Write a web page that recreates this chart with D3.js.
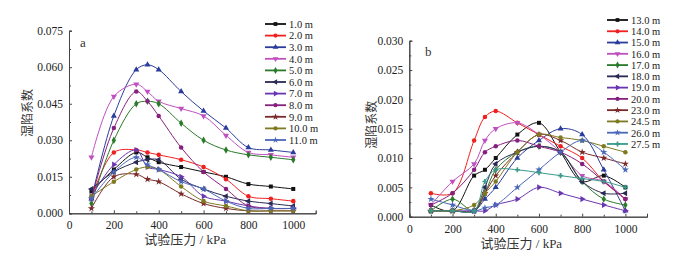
<!DOCTYPE html>
<html lang="zh">
<head>
<meta charset="UTF-8">
<title>湿陷系数</title>
<script src="https://d3js.org/d3.v7.min.js"></script>
<style>
  body { margin: 0; background: #fff; }
  svg { display: block; font-family: "Liberation Serif", "Noto Sans CJK SC", serif; }
  .tick text { font-family: "Liberation Serif", serif; font-size: 11.5px; fill: #222; }
  .legend text { font-size: 10.5px; fill: #222; }
  .title { font-size: 13px; fill: #333; }
  .ytitle { font-size: 12px; fill: #333; }
</style>
</head>
<body>
<svg id="chart" width="700" height="263"></svg>
<script>
// pressure steps (kPa), same for both panels
const pressures = [100, 200, 300, 350, 400, 500, 600, 700, 800, 900, 1000];

// panel a: depths 1.0 – 11.0 m
const depthsA = ["1.0 m", "2.0 m", "3.0 m", "4.0 m", "5.0 m", "6.0 m", "7.0 m", "8.0 m", "9.0 m", "10.0 m", "11.0 m"];
const valuesA = [
  [0.009, 0.018, 0.025, 0.023, 0.021, 0.019, 0.017, 0.015, 0.012, 0.011, 0.010],
  [0.006, 0.025, 0.026, 0.025, 0.024, 0.022, 0.019, 0.014, 0.007, 0.006, 0.005],
  [0.006, 0.040, 0.059, 0.061, 0.059, 0.050, 0.042, 0.035, 0.027, 0.026, 0.025],
  [0.023, 0.048, 0.053, 0.050, 0.046, 0.043, 0.040, 0.032, 0.025, 0.024, 0.023],
  [0.004, 0.030, 0.045, 0.046, 0.045, 0.037, 0.030, 0.026, 0.024, 0.023, 0.022],
  [0.010, 0.017, 0.021, 0.022, 0.022, 0.014, 0.010, 0.007, 0.005, 0.004, 0.003],
  [0.007, 0.020, 0.026, 0.019, 0.018, 0.015, 0.007, 0.005, 0.003, 0.002, 0.002],
  [0.006, 0.035, 0.050, 0.046, 0.040, 0.027, 0.017, 0.010, 0.003, 0.002, 0.002],
  [0.002, 0.015, 0.016, 0.014, 0.013, 0.008, 0.004, 0.002, 0.001, 0.001, 0.001],
  [0.007, 0.013, 0.018, 0.019, 0.018, 0.011, 0.005, 0.003, 0.001, 0.001, 0.001],
  [0.006, 0.017, 0.023, 0.020, 0.018, 0.013, 0.010, 0.005, 0.002, 0.002, 0.002]
];

// panel b: depths 13.0 – 27.5 m
const depthsB = ["13.0 m", "14.0 m", "15.0 m", "16.0 m", "17.0 m", "18.0 m", "19.0 m", "20.0 m", "23.0 m", "24.5 m", "26.0 m", "27.5 m"];
const valuesB = [
  [0.002, 0.001, 0.007, 0.008, 0.010, 0.014, 0.016, 0.011, 0.006, 0.007, 0.005],
  [0.004, 0.004, 0.013, 0.017, 0.018, 0.016, 0.014, 0.012, 0.010, 0.006, 0.003],
  [0.001, 0.001, 0.001, 0.003, 0.005, 0.010, 0.013, 0.015, 0.014, 0.008, 0.001],
  [0.002, 0.006, 0.009, 0.013, 0.015, 0.016, 0.014, 0.011, 0.007, 0.006, 0.003],
  [0.001, 0.003, 0.001, 0.004, 0.008, 0.011, 0.012, 0.011, 0.006, 0.003, 0.002],
  [0.001, 0.001, 0.001, 0.005, 0.009, 0.011, 0.012, 0.011, 0.006, 0.004, 0.004],
  [0.001, 0.001, 0.001, 0.001, 0.002, 0.003, 0.005, 0.004, 0.003, 0.002, 0.001],
  [0.002, 0.004, 0.008, 0.011, 0.012, 0.013, 0.012, 0.011, 0.009, 0.006, 0.003],
  [0.001, 0.001, 0.001, 0.004, 0.007, 0.011, 0.014, 0.013, 0.011, 0.010, 0.009],
  [0.001, 0.001, 0.002, 0.004, 0.006, 0.011, 0.014, 0.0135, 0.013, 0.012, 0.011],
  [0.003, 0.002, 0.001, 0.0015, 0.002, 0.005, 0.008, 0.011, 0.013, 0.011, 0.008],
  [0.001, 0.001, 0.001, 0.006, 0.008, 0.008, 0.0075, 0.007, 0.0065, 0.006, 0.005]
];

const coloursA = ["#111111", "#f02020", "#2a3c9c", "#c050c0", "#2a7a2a", "#2a2a55", "#6a35b0", "#86207e", "#7a2a2a", "#7f7a20", "#4a68b8"];
const coloursB = ["#111111", "#f02020", "#2a3c9c", "#c050c0", "#2a7a2a", "#2a2a55", "#6a35b0", "#86207e", "#7a2a2a", "#7f7a20", "#4a68b8", "#3a9a8a"];

// marker shapes: [symbol, rotation]
const shapes = [
  [d3.symbolSquare, 0], [d3.symbolCircle, 0], [d3.symbolTriangle, 0], [d3.symbolTriangle, 180],
  [d3.symbolDiamond, 0], [d3.symbolTriangle, -90], [d3.symbolTriangle, 90], [d3.symbolCircle, 0],
  [d3.symbolStar, 0], [d3.symbolCircle, 0], [d3.symbolStar, 0], [d3.symbolCross, 0]
];

const svg = d3.select("#chart");

function drawPanel(opt) {
  const x = d3.scaleLinear().domain([0, 1100]).range([opt.left, opt.right]);
  const y = d3.scaleLinear().domain([0, opt.ymax]).range([opt.bottom, opt.top]);
  const g = svg.append("g");

  // major + minor ticks, pointing inward
  const xAxis = d3.axisBottom(x).tickValues(d3.range(0, 1001, 200)).tickSize(-3).tickPadding(8).tickFormat(d3.format("d"));
  const xMinor = d3.axisBottom(x).tickValues(d3.range(100, 1001, 200)).tickSize(-2).tickFormat("");
  const yAxis = d3.axisLeft(y).tickValues(d3.range(0, opt.ymax + 1e-9, opt.ystep)).tickSize(-3).tickPadding(6).tickFormat(d3.format(".3f"));
  const yMinor = d3.axisLeft(y).tickValues(d3.range(opt.ystep / 2, opt.ymax, opt.ystep)).tickSize(-2).tickFormat("");

  [xAxis, xMinor].forEach(a => g.append("g").attr("transform", `translate(0,${opt.bottom})`).call(a));
  [yAxis, yMinor].forEach(a => g.append("g").attr("transform", `translate(${opt.left},0)`).call(a));
  g.selectAll(".domain").attr("stroke", "#444").attr("stroke-width", 1);
  g.selectAll(".tick line").attr("stroke", "#444");

  // titles
  g.append("text").attr("class", "title")
    .attr("x", (x(0) + x(1000)) / 2 + 4).attr("y", opt.bottom + 31)
    .attr("text-anchor", "middle").text("试验压力 / kPa");
  g.append("text").attr("class", "ytitle")
    .attr("transform", `translate(${opt.ytitleX},${(opt.top + opt.bottom) / 2 + opt.ytitleDy}) rotate(-90)`)
    .attr("text-anchor", "middle").text("湿陷系数");
  g.append("text").attr("class", "title")
    .attr("x", opt.tagX).attr("y", opt.tagY).text(opt.tag);

  const line = d3.line()
    .x((d, i) => x(pressures[i]))
    .y(d => y(d))
    .curve(d3.curveCatmullRom.alpha(0.5));

  opt.values.forEach((vals, k) => {
    const c = opt.colours[k];
    g.append("path").attr("d", line(vals)).attr("fill", "none")
      .attr("stroke", c).attr("stroke-width", 1);
    const sym = d3.symbol().type(shapes[k][0]).size(k === 11 ? 14 : 16);
    g.selectAll(null).data(vals).join("path")
      .attr("d", sym)
      .attr("fill", c)
      .attr("transform", (d, i) => `translate(${x(pressures[i])},${y(d)}) rotate(${shapes[k][1]})`);
  });

  // legend
  const leg = g.append("g").attr("class", "legend");
  opt.names.forEach((name, k) => {
    const ly = opt.legTop + k * opt.legStep;
    const c = opt.colours[k];
    leg.append("line").attr("x1", opt.legX).attr("x2", opt.legX + 21)
      .attr("y1", ly).attr("y2", ly).attr("stroke", c).attr("stroke-width", 1.8);
    leg.append("path").attr("d", d3.symbol().type(shapes[k][0]).size(14)())
      .attr("fill", c).attr("transform", `translate(${opt.legX + 10.5},${ly}) rotate(${shapes[k][1]})`);
    leg.append("text").attr("x", opt.legX + 24).attr("y", ly + 3.8).text(name);
  });
}

drawPanel({
  left: 69, right: 315.7, top: 30.7, bottom: 213.3, ymax: 0.075, ystep: 0.015,
  values: valuesA, names: depthsA, colours: coloursA,
  ytitleX: 32, ytitleDy: -9, tag: "a", tagX: 80, tagY: 47,
  legX: 265, legTop: 24, legStep: 11.6
});

drawPanel({
  left: 409.3, right: 647, top: 40.7, bottom: 216.7, ymax: 0.030, ystep: 0.005,
  values: valuesB, names: depthsB, colours: coloursB,
  ytitleX: 376, ytitleDy: -4, tag: "b", tagX: 425, tagY: 56,
  legX: 607, legTop: 20, legStep: 11.27
});
</script>
</body>
</html>
